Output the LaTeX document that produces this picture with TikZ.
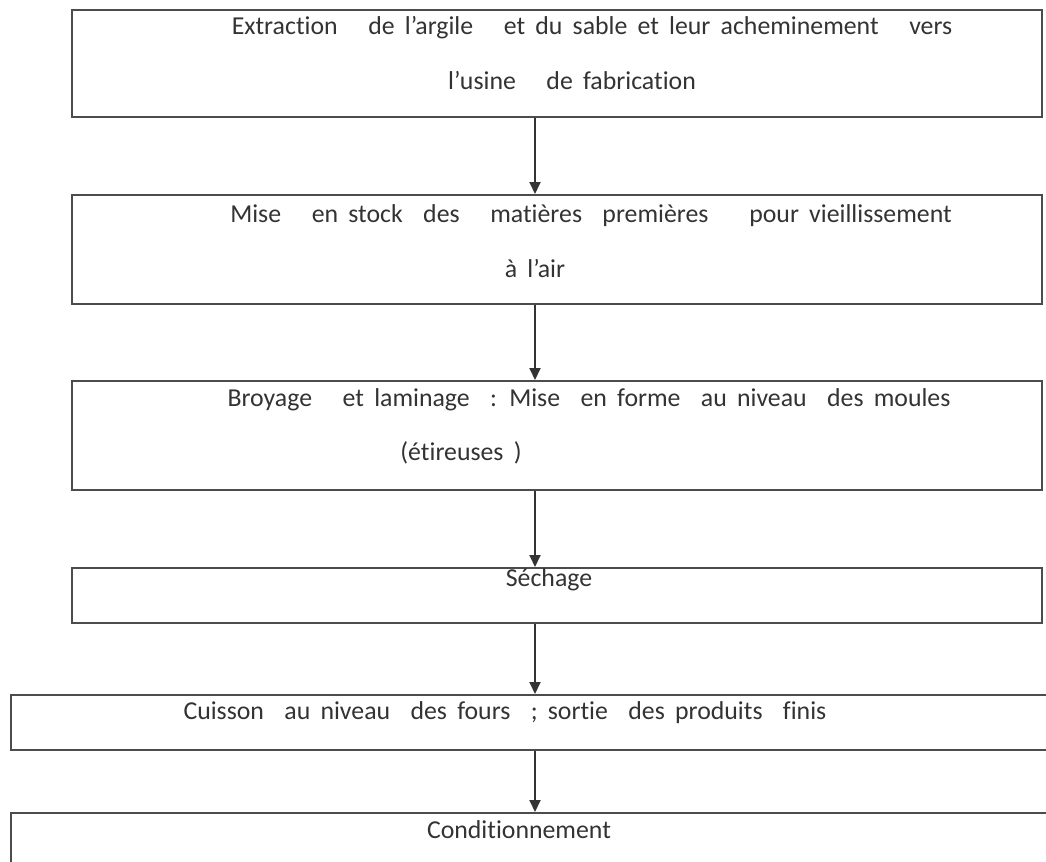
\documentclass[tikz,border=0pt]{standalone}
\usepackage{fontspec}
\setmainfont{Carlito}[Ligatures={TeX,NoCommon}, WordSpace=1.75]
\usetikzlibrary{arrows.meta, calc, positioning}

\begin{document}
\begin{tikzpicture}[x=0.5pt, y=-0.5pt]
            \tikzset{
                > = {Triangle[length=6pt, width=5.5pt]},
                box/.style = {rectangle, draw=black!70, line width=1pt, fill=white,
                              minimum width=485pt, inner sep=0pt},
                wide/.style = {minimum width=525pt, minimum height=27.5pt, anchor=north west},
                txt/.style = {inner sep=0pt, text=black!80,
                              font=\fontsize{12.9pt}{15pt}\selectfont},
                line/.style = {->, line width=1pt, draw=black!80}
            }
            \useasboundingbox (0,0) rectangle (1046,862);

            % les etapes
            \node [box, minimum height=53.5pt] (b1) at (557,63.5) {};
            \node [box, minimum height=54.5pt, below=38pt of b1] (b2) {};
            \node [box, minimum height=54.5pt, below=37.5pt of b2] (b3) {};
            \node [box, minimum height=27.5pt, below=38pt of b3] (b4) {};
            \node [box, wide] (b5) at (10,694) {};
            \node [box, wide, minimum height=30pt] (b6) at (10,812) {};

            % textes
            \node [txt] (t1a) at (592,28) {Extraction\ \ \ de l'argile\ \ \ et du sable et leur acheminement\ \ \ vers};
            \node [txt] (t1b) at (572,80) {l'usine\ \ \ de fabrication};
            \node [txt] (t2a) at (591,216) {Mise\ \ \ en stock\ \ des\ \ \ matières\ \ premières\ \ \ \ pour vieillissement};
            \node [txt] (t2b) at (535,268) {à l'air};
            \node [txt] (t3a) at (589,400) {Broyage\ \ \ et laminage\ \ : Mise\ \ en forme\ \ au niveau\ \ des moules};
            \node [txt] (t3b) at (461,453) {(étireuses )};
            \node [txt] (t4) at (549,580) {Séchage};
            \node [txt] (t5) at (505,713) {Cuisson\ \ au niveau\ \ des fours\ \ ; sortie\ \ des produits\ \ finis};
            \node [txt] (t6) at (519,830) {Conditionnement};

            % fleches
            \coordinate (axis) at (535,0);
            \draw [line] (b1.south -| axis) -- (b2.north -| axis);
            \draw [line] (b2.south -| axis) -- (b3.north -| axis);
            \draw [line] (b3.south -| axis) -- (b4.north -| axis);
            \draw [line] (b4.south -| axis) -- (b5.north -| axis);
            \draw [line] (b5.south -| axis) -- (b6.north -| axis);

        \end{tikzpicture}
\end{document}
